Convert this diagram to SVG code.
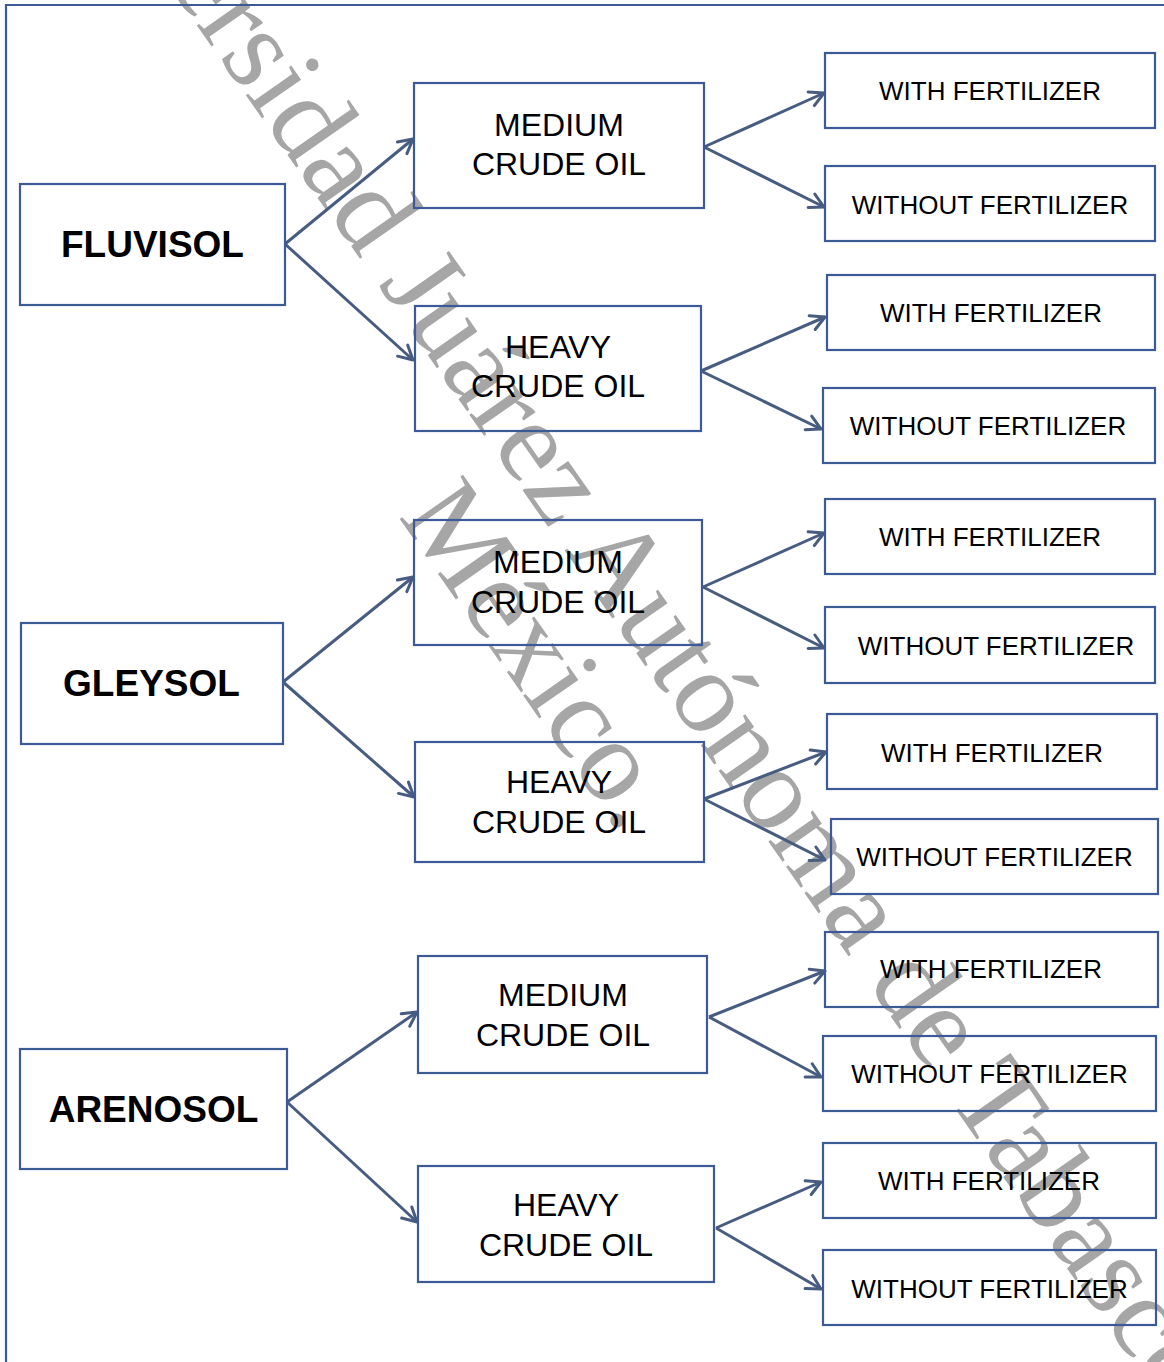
<svg xmlns="http://www.w3.org/2000/svg" width="1164" height="1362" viewBox="0 0 1164 1362">
<style>
  .box { fill: none; stroke: #3b5a96; stroke-width: 2.2; }
  .soil { font-family: "Liberation Sans", Arial, sans-serif; font-weight: bold; font-size: 37px; fill: #000; text-anchor: middle; }
  .oil { font-family: "Liberation Sans", Arial, sans-serif; font-size: 32px; fill: #000; text-anchor: middle; }
  .fert { font-family: "Liberation Sans", Arial, sans-serif; font-size: 26px; fill: #000; text-anchor: middle; }
  .conn { fill: none; stroke: #475c80; stroke-width: 3; marker-end: url(#arrow); }
  .wm { font-family: "Liberation Serif", "Times New Roman", serif; font-size: 118px; fill: #a6a6a6; text-anchor: middle; }
</style>
<defs>
  <marker id="arrow" markerUnits="userSpaceOnUse" viewBox="0 0 20 20" refX="18" refY="10" markerWidth="20" markerHeight="20" orient="auto">
    <path d="M4,2.5 L18,10 L4,17.5" fill="none" stroke="#475c80" stroke-width="3" stroke-linecap="round" stroke-linejoin="round"/>
  </marker>
</defs>
<rect x="0" y="0" width="1164" height="1362" fill="#ffffff"/>

<g id="watermark" transform="translate(598,614) rotate(55)">
  <text class="wm" x="-12" y="-9">Universidad Juárez Autónoma de Tabasco</text>
  <text class="wm" x="0" y="108">México.</text>
</g>

<path id="frame" d="M6,1362 V5 H1164" fill="none" stroke="#3b5a96" stroke-width="2.2"/>

<g id="connectors">
  <path class="conn" d="M285,244 L413,139"/>
  <path class="conn" d="M285,244 L413,360"/>
  <path class="conn" d="M283,682 L413,577"/>
  <path class="conn" d="M283,682 L414,797"/>
  <path class="conn" d="M287,1102 L417,1012"/>
  <path class="conn" d="M287,1102 L417,1222"/>
  <path class="conn" d="M704,147 L824,93"/>
  <path class="conn" d="M704,147 L824,207"/>
  <path class="conn" d="M701,371 L825,317"/>
  <path class="conn" d="M701,371 L821,429"/>
  <path class="conn" d="M703,587 L824,533"/>
  <path class="conn" d="M703,587 L824,648"/>
  <path class="conn" d="M704,799 L826,752"/>
  <path class="conn" d="M704,799 L825,860"/>
  <path class="conn" d="M709,1017 L825,971"/>
  <path class="conn" d="M709,1017 L821,1077"/>
  <path class="conn" d="M716,1228 L821,1182"/>
  <path class="conn" d="M716,1228 L821,1289"/>
</g>

<g id="fluvisol"><rect class="box" x="20" y="184" width="265" height="121"/><text class="soil" x="152.5" y="257">FLUVISOL</text></g>
<g id="gleysol"><rect class="box" x="21" y="623" width="262" height="121"/><text class="soil" x="151.5" y="696">GLEYSOL</text></g>
<g id="arenosol"><rect class="box" x="20" y="1049" width="267" height="120"/><text class="soil" x="153.5" y="1121.5">ARENOSOL</text></g>

<g id="medium1"><rect class="box" x="414" y="83" width="290" height="125"/><text class="oil" x="559" y="136">MEDIUM</text><text class="oil" x="559" y="175">CRUDE OIL</text></g>
<g id="heavy1"><rect class="box" x="415" y="306" width="286" height="125"/><text class="oil" x="558" y="358">HEAVY</text><text class="oil" x="558" y="397">CRUDE OIL</text></g>
<g id="medium2"><rect class="box" x="414" y="520" width="288" height="125"/><text class="oil" x="558" y="573">MEDIUM</text><text class="oil" x="558" y="613">CRUDE OIL</text></g>
<g id="heavy2"><rect class="box" x="415" y="742" width="289" height="120"/><text class="oil" x="559" y="793">HEAVY</text><text class="oil" x="559" y="833">CRUDE OIL</text></g>
<g id="medium3"><rect class="box" x="418" y="956" width="289" height="117"/><text class="oil" x="563" y="1005.5">MEDIUM</text><text class="oil" x="563" y="1045.5">CRUDE OIL</text></g>
<g id="heavy3"><rect class="box" x="418" y="1166" width="296" height="116"/><text class="oil" x="566" y="1215.5">HEAVY</text><text class="oil" x="566" y="1255.5">CRUDE OIL</text></g>

<g id="f1"><rect class="box" x="825" y="53" width="330" height="75"/><text class="fert" x="990" y="99.5">WITH FERTILIZER</text></g>
<g id="f2"><rect class="box" x="825" y="166" width="330" height="75"/><text class="fert" x="990" y="213.5">WITHOUT FERTILIZER</text></g>
<g id="f3"><rect class="box" x="827" y="275" width="328" height="75"/><text class="fert" x="991" y="321.5">WITH FERTILIZER</text></g>
<g id="f4"><rect class="box" x="823" y="388" width="332" height="75"/><text class="fert" x="988" y="434.5">WITHOUT FERTILIZER</text></g>
<g id="f5"><rect class="box" x="825" y="499" width="330" height="75"/><text class="fert" x="990" y="545.5">WITH FERTILIZER</text></g>
<g id="f6"><rect class="box" x="825" y="607" width="330" height="76"/><text class="fert" x="996" y="654.5">WITHOUT FERTILIZER</text></g>
<g id="f7"><rect class="box" x="827" y="714" width="330" height="75"/><text class="fert" x="992" y="761.5">WITH FERTILIZER</text></g>
<g id="f8"><rect class="box" x="831" y="819" width="327" height="75"/><text class="fert" x="994.5" y="865.5">WITHOUT FERTILIZER</text></g>
<g id="f9"><rect class="box" x="825" y="932" width="333" height="75"/><text class="fert" x="991" y="977.5">WITH FERTILIZER</text></g>
<g id="f10"><rect class="box" x="823" y="1036" width="333" height="75"/><text class="fert" x="989.5" y="1082.5">WITHOUT FERTILIZER</text></g>
<g id="f11"><rect class="box" x="823" y="1143" width="333" height="75"/><text class="fert" x="989" y="1189.5">WITH FERTILIZER</text></g>
<g id="f12"><rect class="box" x="823" y="1250" width="333" height="75"/><text class="fert" x="989.5" y="1297.5">WITHOUT FERTILIZER</text></g>
</svg>
